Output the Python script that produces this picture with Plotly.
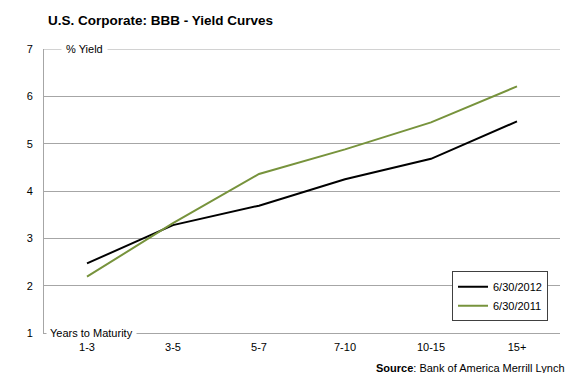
import plotly.graph_objects as go

# Maturity buckets and BBB corporate yields (%)
maturities = ["1-3", "3-5", "5-7", "7-10", "10-15", "15+"]
yield_2012 = [2.47, 3.28, 3.69, 4.25, 4.68, 5.47]
yield_2011 = [2.19, 3.32, 4.36, 4.88, 5.45, 6.21]
series_names = ["6/30/2012", "6/30/2011"]
y_ticks = [1, 2, 3, 4, 5, 6, 7]

FONT = "Liberation Sans, Arial, sans-serif"
GRID = "#a6a6a6"

fig = go.Figure()
fig.add_trace(go.Scatter(x=maturities, y=yield_2012, mode="lines", name=series_names[0],
                         line=dict(color="#000000", width=2)))
fig.add_trace(go.Scatter(x=maturities, y=yield_2011, mode="lines", name=series_names[1],
                         line=dict(color="#77933C", width=2)))

fig.update_layout(
    width=570, height=373,
    margin=dict(l=44, r=10, t=49, b=40),
    paper_bgcolor="white", plot_bgcolor="white",
    font=dict(family=FONT, size=11, color="#000000"),
    title=dict(text="<b>U.S. Corporate: BBB - Yield Curves</b>",
               x=48 / 570, xanchor="left", y=1 - 20 / 373, yanchor="middle",
               font=dict(family=FONT, size=13.5, color="#000000")),
    showlegend=True,
    legend=dict(x=(452 - 44) / 516, y=(332.7 - 271) / 283.4, xanchor="left", yanchor="top",
                bgcolor="white", bordercolor="#404040", borderwidth=1,
                font=dict(family=FONT, size=11), itemwidth=30,
                tracegroupgap=2),
    xaxis=dict(type="category", categoryorder="array", categoryarray=maturities,
               range=[-0.5, 5.5], showgrid=False, showline=True, linecolor=GRID, linewidth=1,
               ticks="", ticklabelstandoff=4, tickfont=dict(size=11), fixedrange=True),
    yaxis=dict(range=[1, 7], tickvals=y_ticks, showgrid=True, gridcolor=GRID, gridwidth=1,
               showline=True, linecolor=GRID, linewidth=1, zeroline=False,
               ticks="", ticklabelstandoff=8, tickfont=dict(size=11), fixedrange=True),
    shapes=[
        # top gridline at the upper end of the value axis
        dict(type="line", xref="paper", yref="y", x0=0, x1=1, y0=7, y1=7,
             line=dict(color=GRID, width=1), layer="below"),
    ],
    annotations=[
        dict(text="% Yield", xref="paper", yref="paper", x=(61 - 44) / 516, y=1,
             xanchor="left", yanchor="middle", showarrow=False, bgcolor="white",
             borderpad=4, font=dict(size=11)),
        dict(text="Years to Maturity", xref="paper", yref="paper", x=(46 - 44) / 516, y=0,
             xanchor="left", yanchor="middle", showarrow=False, bgcolor="white",
             borderpad=3, font=dict(size=11)),
        dict(text="<b>Source</b>: Bank of America Merrill Lynch", xref="paper", yref="paper",
             x=(567 - 44) / 516, y=(332.7 - 368) / 283.4, xanchor="right", yanchor="middle",
             showarrow=False, font=dict(size=11)),
    ],
)

fig.write_html("out.html")
